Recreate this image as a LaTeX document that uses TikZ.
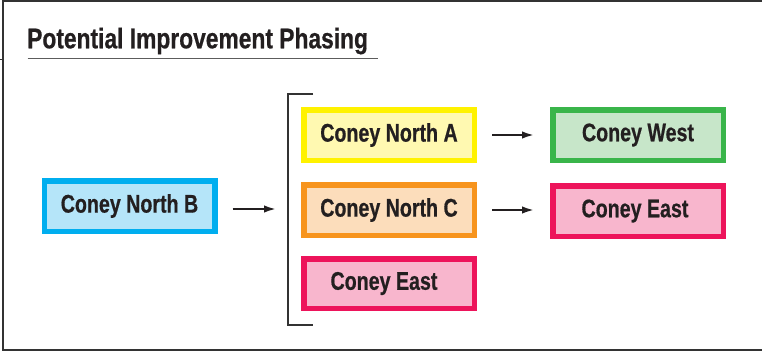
\documentclass[tikz,border=0pt]{standalone}
\usepackage{fontspec}
\setmainfont[FakeStretch=0.77]{Liberation Sans}
\newfontfamily\boxfont[FakeStretch=0.77,FakeBold=0.6]{Liberation Sans}
\newfontfamily\titlefont[FakeStretch=0.80,FakeBold=0.6]{Liberation Sans}
\usetikzlibrary{arrows.meta}
\definecolor{txt}{HTML}{231F20}
\definecolor{frame}{HTML}{333333}
\definecolor{cyanB}{HTML}{00AEEF}\definecolor{cyanF}{HTML}{B5E5F9}
\definecolor{yelB}{HTML}{FFF200}\definecolor{yelF}{HTML}{FFF9B1}
\definecolor{orgB}{HTML}{F7941D}\definecolor{orgF}{HTML}{FCDDBB}
\definecolor{magB}{HTML}{ED145B}\definecolor{magF}{HTML}{F8B6CD}
\definecolor{grnB}{HTML}{39B54A}\definecolor{grnF}{HTML}{C7E6C9}
\tikzset{
  phase/.style={draw=#1B, fill=#1F, line width=5.5pt, minimum width=170.5pt, minimum height=50.5pt,
    inner sep=0pt, text=txt, font=\boxfont\fontsize{25.5}{28}\selectfont\bfseries},
  arr/.style={draw=txt, line width=2pt, -{Latex[length=12pt,width=7.5pt]}},
  brk/.style={draw=frame, line width=1.5pt},
}
\begin{document}
\begin{tikzpicture}[x=1pt,y=-1pt]
\useasboundingbox[fill=white] (0,0) rectangle (762,351);
% outer frame
\draw[frame, line width=2.2pt] (775,1) -- (3,1) -- (3,350) -- (775,350);
\draw[frame, line width=1pt] (0,59.5) -- (3,59.5);
% title
\node[anchor=base west, inner sep=0pt, text=txt, font=\titlefont\fontsize{28.5}{31}\selectfont\bfseries] (title) at (27,48.3) {Potential Improvement Phasing};
\draw[draw=frame!80, line width=1pt] (27.5,58.3) -- (378,58.3);
% nodes
\node[phase=cyan] (B) at (129.5,206) {Coney North B};
\node[phase=yel] (A) at (389,135) {Coney North A};
\node[phase=org] (C) at (389,210) {Coney North C};
\node[phase=mag, minimum height=49.5pt] (E1) at (389,283.5) {Coney East\kern10pt};
\node[phase=grn] (W) at (638,135) {Coney West};
\node[phase=mag] (E2) at (638,211) {Coney East\kern6pt};
% bracket
\coordinate (bk) at (288,209);
\draw[brk] (313,94) -- (288,94) -- (288,325) -- (313,325);
% arrows
\draw[arr, shorten <=15pt, shorten >=12pt] (B.east |- bk) -- (bk);
\draw[arr, shorten <=15pt, shorten >=16pt] (A.east) -- (W.west);
\draw[arr, shorten <=15pt, shorten >=16pt] (C.east) -- (C.east -| E2.west);
\end{tikzpicture}
\end{document}
